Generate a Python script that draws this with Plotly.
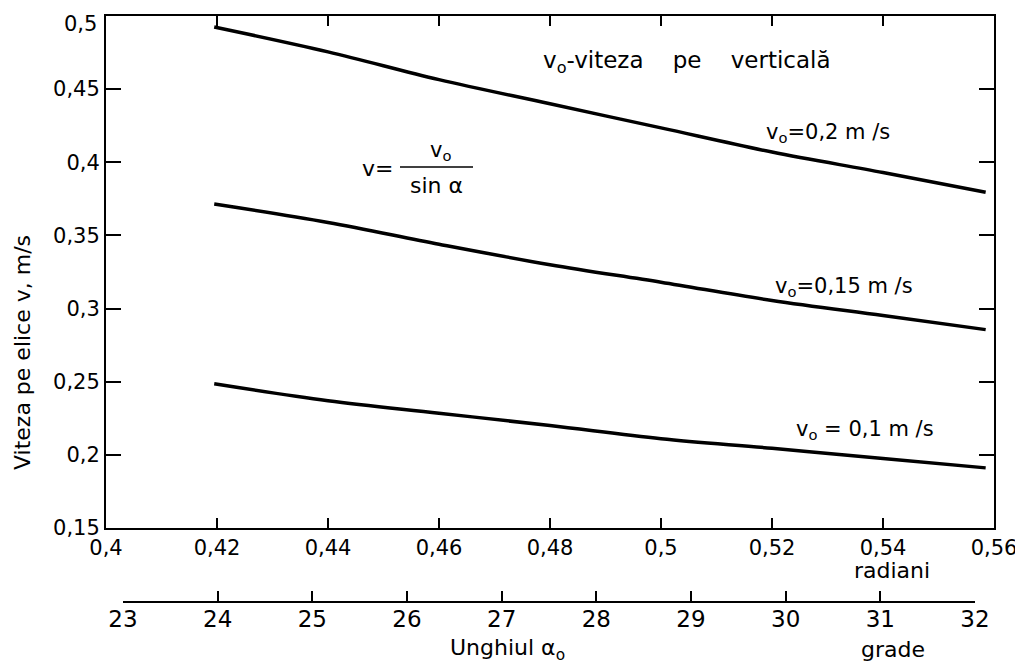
import plotly.graph_objects as go

# ---- data ----
angle_rad = [0.4195, 0.44, 0.46, 0.48, 0.50, 0.52, 0.54, 0.5585]
v_02 = [0.4925, 0.4755, 0.4565, 0.4400, 0.4235, 0.4070, 0.3930, 0.3795]
v_015 = [0.3715, 0.3589, 0.3440, 0.3300, 0.3180, 0.3055, 0.2952, 0.2856]
v_01 = [0.2486, 0.2370, 0.2285, 0.2200, 0.2110, 0.2045, 0.1975, 0.1911]

rad_ticks = [0.40, 0.42, 0.44, 0.46, 0.48, 0.50, 0.52, 0.54, 0.56]
rad_labels = ["0,4", "0,42", "0,44", "0,46", "0,48", "0,5", "0,52", "0,54", "0,56"]
v_ticks = [0.15, 0.20, 0.25, 0.30, 0.35, 0.40, 0.45, 0.50]
v_labels = ["0,15", "0,2", "0,25", "0,3", "0,35", "0,4", "0,45", "0,5"]
deg_ticks = [23, 24, 25, 26, 27, 28, 29, 30, 31, 32]
deg_labels = ["23", "24", "25", "26", "27", "28", "29", "30", "31", "32"]

FONT = "DejaVu Sans"
W, H = 1023, 664
OFF = 8  # page body margin
# plot area in reference pixels
RL, RR, RT, RB = 106, 994, 16, 624


def px(x):
    return (x - RL) / (RR - RL)


def py(y):
    return (RB - y) / (RB - RT)


fig = go.Figure()
for vals in (v_02, v_015, v_01):
    fig.add_trace(go.Scatter(x=angle_rad, y=vals, mode="lines",
                             line=dict(color="black", width=3.5, shape="spline"),
                             hoverinfo="skip", showlegend=False))
# invisible trace to carry the degree axis
fig.add_trace(go.Scatter(x=deg_ticks, y=[None] * len(deg_ticks), xaxis="x2", yaxis="y",
                         mode="markers", marker=dict(opacity=0), showlegend=False,
                         hoverinfo="skip"))

axis_common = dict(showgrid=False, zeroline=False, showline=True, linecolor="black",
                   linewidth=2, ticks="inside", tickcolor="black", tickwidth=2,
                   automargin=False, ticklabeloverflow="allow")

# top y label is drawn a little lower (as in the reference), as an annotation
y_ticktext = v_labels[:-1] + [""]

fig.update_layout(
    width=W, height=H,
    margin=dict(l=RL - OFF, r=W - (RR - OFF), t=RT - OFF, b=H - (RB - OFF)),
    paper_bgcolor="white", plot_bgcolor="rgba(0,0,0,0)",
    showlegend=False,
    xaxis=dict(range=[0.40, 0.56], tickvals=rad_ticks, ticktext=rad_labels,
               ticklen=10, mirror="ticks", anchor="y",
               tickfont=dict(family=FONT, size=21, color="black"), **axis_common),
    yaxis=dict(range=[0.15, 0.50], tickvals=v_ticks, ticktext=y_ticktext,
               ticklen=15, mirror="ticks", domain=[py(528), 1], anchor="x",
               tickfont=dict(family=FONT, size=21, color="black"), **axis_common),
    xaxis2=dict(range=[23, 32], tickvals=deg_ticks, ticktext=deg_labels,
                ticklen=10, anchor="free", position=py(602),
                domain=[px(123), px(975)], side="bottom", ticklabelstandoff=-4,
                tickfont=dict(family=FONT, size=23, color="black"), **axis_common),
)


def add_text(text, x, y, size=20, angle=0, xanchor="center"):
    fig.add_annotation(text=text, x=px(x), y=py(y), xref="paper", yref="paper",
                       xanchor=xanchor, yanchor="middle", showarrow=False,
                       textangle=angle, font=dict(family=FONT, size=size, color="black"))


add_text(v_labels[-1], 99, 24, size=21, xanchor="right")
add_text("Viteza pe elice v, m/s", 22, 353, size=22, angle=-90)
add_text("v<sub>o</sub>-viteza    pe    verticală", 687, 62, size=23)
add_text("v<sub>o</sub>=0,2 m /s", 828, 133, size=21)
add_text("v<sub>o</sub>=0,15 m /s", 844, 287, size=21)
add_text("v<sub>o</sub> = 0,1 m /s", 865, 430, size=21)
add_text("radiani", 892, 570, size=22)
add_text("grade", 893, 649, size=22)
add_text("Unghiul α<sub>o</sub>", 507, 649, size=22)
# formula v = v0 / sin(alpha)
add_text("v=", 377, 168, size=22)
add_text("v<sub>o</sub>", 440, 151, size=21)
add_text("sin α", 436, 185, size=22)
fig.add_shape(type="line", xref="paper", yref="paper",
              x0=px(400), x1=px(473), y0=py(167), y1=py(167),
              line=dict(color="black", width=1.5))

fig.write_html("out.html")
